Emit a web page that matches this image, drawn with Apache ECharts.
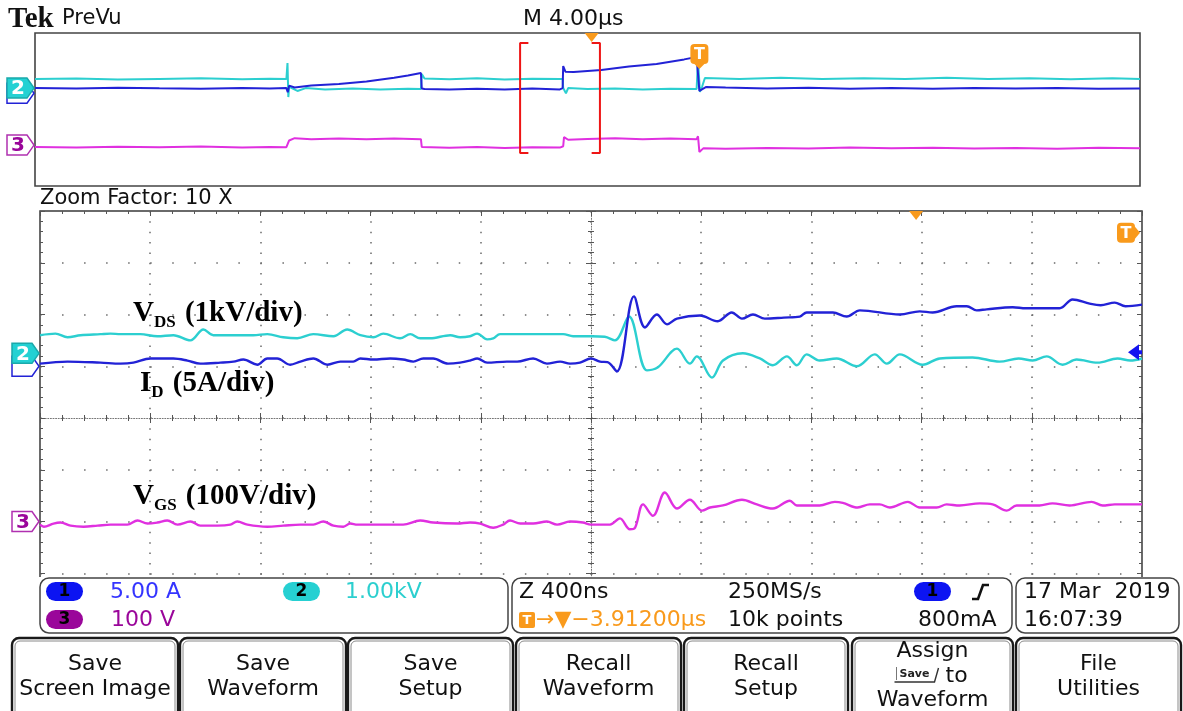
<!DOCTYPE html>
<html><head><meta charset="utf-8">
<script src="https://cdn.jsdelivr.net/npm/echarts@6/dist/echarts.min.js"></script>
<style>html,body{margin:0;padding:0;background:#fff}#c{width:1183px;height:711px}</style>
</head><body><div id="c"></div>
<script>
// ---------------- DATA (time, screen divisions) ----------------
// Zoomed window: time in ns (400 ns/div), value in graticule divisions from centre
const vdsZoom = [[-2000,1.60],[-1944,1.63],[-1900,1.56],[-1853,1.60],[-1781,1.62],[-1744,1.63],[-1708,1.62],[-1636,1.62],[-1574,1.58],[-1516,1.60],[-1454,1.50],[-1407,1.71],[-1371,1.60],[-1298,1.60],[-1226,1.60],[-1175,1.62],[-1117,1.56],[-1066,1.54],[-1008,1.62],[-935,1.58],[-885,1.71],[-837,1.60],[-790,1.56],[-754,1.63],[-693,1.54],[-656,1.62],[-620,1.54],[-584,1.54],[-511,1.60],[-475,1.56],[-439,1.58],[-413,1.63],[-377,1.52],[-355,1.54],[-330,1.62],[-246,1.62],[-101,1.62],[-65,1.58],[0,1.58],[50,1.57],[87,1.50],[138,1.96],[203,0.92],[243,0.98],[312,1.34],[359,1.05],[384,1.19],[439,0.78],[479,1.11],[551,1.25],[613,1.15],[660,1.02],[711,1.19],[747,1.02],[783,1.23],[830,1.11],[892,1.15],[965,1.00],[1030,1.23],[1074,1.05],[1121,1.23],[1204,1.03],[1266,1.15],[1385,1.17],[1483,1.09],[1552,1.15],[1603,1.11],[1654,1.19],[1712,1.03],[1763,1.13],[1839,1.07],[1911,1.15],[1958,1.11],[2000,1.15]];
const idZoom = [[-2000,1.05],[-1900,1.09],[-1781,1.07],[-1708,1.05],[-1661,1.07],[-1599,1.15],[-1516,1.15],[-1465,1.11],[-1418,1.05],[-1345,1.07],[-1298,1.09],[-1262,1.13],[-1211,1.03],[-1175,1.15],[-1139,1.15],[-1092,1.03],[-1055,1.09],[-1008,1.15],[-957,1.03],[-910,1.09],[-863,1.09],[-837,1.15],[-790,1.13],[-729,1.15],[-682,1.13],[-645,1.09],[-609,1.15],[-573,1.15],[-519,1.05],[-475,1.07],[-439,1.11],[-413,1.15],[-377,1.07],[-305,1.09],[-268,1.09],[-210,1.15],[-160,1.05],[-112,1.09],[-76,1.05],[-40,1.07],[0,1.15],[33,1.09],[60,1.08],[94,0.90],[156,2.35],[196,1.75],[239,2.00],[276,1.81],[312,1.92],[395,1.98],[460,1.87],[511,2.04],[548,1.92],[588,2.00],[631,1.92],[700,1.94],[758,1.96],[783,2.04],[878,2.04],[928,1.96],[976,2.08],[1121,2.00],[1193,2.06],[1240,2.04],[1327,2.16],[1364,2.16],[1400,2.08],[1436,2.10],[1531,2.14],[1578,2.12],[1701,2.12],[1748,2.29],[1810,2.21],[1850,2.18],[1901,2.23],[1940,2.16],[2000,2.19]];
const vgsZoom = [[-2000,-2.06],[-1986,-2.10],[-1951,-2.04],[-1926,-2.02],[-1889,-2.08],[-1842,-2.10],[-1791,-2.08],[-1744,-2.06],[-1683,-2.06],[-1646,-1.98],[-1610,-2.04],[-1574,-2.02],[-1538,-1.98],[-1501,-2.06],[-1454,-2.00],[-1418,-2.08],[-1356,-2.08],[-1309,-2.06],[-1284,-2.00],[-1247,-2.06],[-1175,-2.10],[-1117,-2.08],[-1055,-2.06],[-1008,-2.06],[-972,-2.00],[-935,-2.08],[-899,-2.10],[-874,-2.04],[-848,-2.06],[-729,-2.06],[-682,-2.06],[-620,-1.98],[-573,-2.02],[-486,-2.04],[-439,-2.02],[-402,-2.04],[-355,-2.12],[-319,-2.06],[-294,-1.98],[-257,-2.04],[-210,-2.04],[-160,-2.00],[-123,-2.06],[-76,-2.00],[-29,-2.02],[0,-2.06],[69,-2.06],[105,-1.94],[141,-2.15],[160,-2.12],[189,-1.67],[225,-1.89],[268,-1.44],[312,-1.75],[359,-1.58],[403,-1.79],[432,-1.73],[479,-1.69],[548,-1.58],[602,-1.67],[660,-1.75],[722,-1.60],[747,-1.69],[830,-1.69],[885,-1.62],[914,-1.64],[968,-1.73],[1012,-1.67],[1048,-1.67],[1085,-1.73],[1150,-1.62],[1193,-1.73],[1255,-1.73],[1291,-1.67],[1338,-1.69],[1411,-1.65],[1458,-1.67],[1509,-1.79],[1545,-1.69],[1628,-1.69],[1675,-1.65],[1737,-1.69],[1817,-1.62],[1857,-1.69],[1901,-1.67],[2000,-1.67]];

// Overview (PreVu) record: time in µs (4 µs/div), value in divisions
const vdsOverview = [[-20,1.59],[-18.5,1.62],[-17,1.57],[-15.5,1.60],[-14,1.63],[-12.5,1.58],[-11.5,1.61],[-10.9,1.59],[-10.86,2.43],[-10.83,0.65],[-10.8,1.18],[-10.5,0.97],[-10.2,1.12],[-9.5,1.05],[-8.5,1.10],[-7.5,1.05],[-6.5,1.09],[-6.03,1.07],[-6.0,1.85],[-5.9,1.62],[-5.0,1.58],[-4.0,1.63],[-3.0,1.57],[-2.0,1.61],[-1.0,1.59],[-0.9,1.60],[-0.88,1.12],[-0.78,0.85],[-0.7,1.12],[0,1.07],[1,1.10],[2,1.05],[3,1.09],[3.95,1.07],[4.0,2.6],[4.05,2.6],[4.07,0.92],[4.15,1.2],[4.25,1.65],[5.5,1.60],[7,1.66],[8.5,1.59],[10,1.63],[11.5,1.60],[13,1.66],[14.5,1.60],[16,1.63],[17.5,1.58],[19,1.64],[20,1.60]];
const idOverview = [[-20,1.12],[-18.5,1.10],[-17,1.14],[-15.5,1.11],[-14,1.09],[-12.5,1.13],[-11.5,1.10],[-10.9,1.12],[-10.85,0.9],[-10.8,1.25],[-10.6,1.15],[-10,1.25],[-9,1.33],[-8,1.46],[-7,1.66],[-6.5,1.78],[-6.03,1.91],[-6.0,1.10],[-5.9,1.07],[-5,1.05],[-4,1.09],[-3,1.04],[-2,1.10],[-1,1.05],[-0.9,1.12],[-0.88,2.27],[-0.8,1.98],[-0.5,1.96],[0.5,2.07],[1.5,2.25],[2.5,2.38],[3.5,2.62],[3.95,2.75],[4.05,0.97],[4.3,1.18],[5,1.15],[6.5,1.10],[8,1.14],[9.5,1.08],[11,1.12],[12.5,1.09],[14,1.13],[15.5,1.10],[17,1.12],[18.5,1.08],[20,1.10]];
const vgsOverview = [[-20,-1.96],[-18.5,-1.99],[-17,-1.95],[-15.5,-1.98],[-14,-1.94],[-12.5,-1.99],[-11.5,-1.96],[-10.9,-1.97],[-10.8,-1.62],[-10.6,-1.50],[-10,-1.55],[-9,-1.52],[-8,-1.56],[-7,-1.52],[-6.03,-1.55],[-6.0,-1.96],[-5,-2.0],[-4,-1.96],[-3,-2.01],[-2,-1.97],[-1,-1.99],[-0.88,-1.92],[-0.85,-1.44],[-0.7,-1.58],[0,-1.54],[1,-1.50],[2,-1.56],[3,-1.52],[3.95,-1.55],[4.0,-1.40],[4.05,-2.22],[4.2,-2.02],[5,-2.05],[6.5,-2.01],[8,-2.04],[9.5,-1.99],[11,-2.03],[12.5,-2.00],[14,-2.04],[15.5,-2.01],[17,-2.05],[18.5,-2.00],[20,-2.03]];
const zoomBracketLeft = [[-2.14,3.48],[-2.44,3.48],[-2.44,-2.27],[-2.14,-2.27]];
const zoomBracketRight = [[0.15,3.48],[0.45,3.48],[0.45,-2.27],[0.15,-2.27]];

// Channel ground levels / markers (divisions)
const mainGround = {ch1: 1.02, ch2: 1.25, ch3: -2.0};
const ovGround = {ch1: 0.85, ch2: 1.12, ch3: -1.86};
const expansionPointOv = 0.15;      // µs, orange triangle in overview
const triggerOv = 4.05;             // µs, T marker in overview
const expansionPointMain = 1180;    // ns
const triggerLevelMain = 1.27;      // div, blue arrow at right
const triggerMarkerMain = 3.58;     // div, T marker at right

// Readout texts
const header = {brand: 'Tek', mode: 'PreVu', timebase: 'M 4.00µs', zoom: 'Zoom Factor: 10 X'};
const chScales = ['5.00 A', '1.00kV', '100 V'];
const readout = {zoomTb: 'Z 400ns', offset: '→▼−3.91200µs', rate: '250MS/s', points: '10k points', trigLevel: '800mA', date: '17 Mar  2019', time: '16:07:39'};
const buttons = [['Save','Screen Image'],['Save','Waveform'],['Save','Setup'],['Recall','Waveform'],['Recall','Setup'],['Assign','@SAVE@ to','Waveform'],['File','Utilities']];

// ---------------- STYLE ----------------
const C_CY = '#2ccfd0', C_BL = '#2222d6', C_MG = '#e030e0', C_OR = '#f99a1c', C_PU = '#9a069a';
const SANS = '"DejaVu Sans"', SERIF = '"Liberation Serif"';
const MAIN = {left: 40, top: 211, width: 1102, height: 414};
const OV = {left: 35, top: 33, width: 1105, height: 153};
const dotC = '#6a6a6a', tickC = '#555';

function tickAxis(extra){
  return Object.assign({type:'value', axisLabel:{show:false}, splitLine:{show:false},
    axisLine:{show:false, onZero:false}, axisTick:{show:true, inside:true, length:5, lineStyle:{color:tickC, width:1}},
    minorTick:{show:true, splitNumber:5, length:3, lineStyle:{color:tickC, width:1}}}, extra);
}

const option = {
  animation: false,
  backgroundColor: '#ffffff',
  grid: [
    Object.assign({show:true, borderColor:'#3a3a3a', borderWidth:1.5}, MAIN),
    Object.assign({show:false}, MAIN),
    Object.assign({show:false}, MAIN),
    Object.assign({show:true, borderColor:'#444', borderWidth:1.6}, OV)
  ],
  xAxis: [
    tickAxis({gridIndex:0, min:-2000, max:2000, interval:400,
      axisLine:{show:true, onZero:true, lineStyle:{color:'#777', width:1, type:[1,1.6]}},
      splitLine:{show:true, lineStyle:{color:dotC, width:1.5, type:[1.5,8.85]}}}),
    tickAxis({gridIndex:1, min:-2000, max:2000, interval:400, axisLine:{show:false, onZero:true}, axisTick:{show:true, inside:false, length:5, lineStyle:{color:tickC}}}),
    tickAxis({gridIndex:2, min:-2000, max:2000, interval:400, position:'top'}),
    {gridIndex:3, type:'value', min:-20, max:20, show:false}
  ],
  yAxis: [
    tickAxis({gridIndex:0, min:-4, max:4, interval:1,
      axisLine:{show:true, onZero:true, lineStyle:{color:'#777', width:1, type:[1,1.6]}},
      splitLine:{show:true, lineStyle:{color:dotC, width:1.5, type:[1.5,20.54]}}}),
    tickAxis({gridIndex:1, min:-4, max:4, interval:1, axisLine:{show:false, onZero:true}, axisTick:{show:true, inside:false, length:5, lineStyle:{color:tickC}}}),
    tickAxis({gridIndex:2, min:-4, max:4, interval:1, position:'left'}),
    tickAxis({gridIndex:2, min:-4, max:4, interval:1, position:'right'}),
    {gridIndex:3, type:'value', min:-4, max:4, show:false}
  ],
  series: [
    {name:'VDS', type:'line', xAxisIndex:0, yAxisIndex:0, data:vdsZoom, showSymbol:false, smooth:0.35, lineStyle:{color:C_CY, width:2.4}, z:5, silent:true},
    {name:'ID', type:'line', xAxisIndex:0, yAxisIndex:0, data:idZoom, showSymbol:false, smooth:0.35, lineStyle:{color:C_BL, width:2.4}, z:6, silent:true},
    {name:'VGS', type:'line', xAxisIndex:0, yAxisIndex:0, data:vgsZoom, showSymbol:false, smooth:0.35, lineStyle:{color:C_MG, width:2.4}, z:5, silent:true},
    {name:'VDS overview', type:'line', xAxisIndex:3, yAxisIndex:4, data:vdsOverview, showSymbol:false, lineStyle:{color:C_CY, width:2}, z:5, silent:true},
    {name:'ID overview', type:'line', xAxisIndex:3, yAxisIndex:4, data:idOverview, showSymbol:false, lineStyle:{color:C_BL, width:2}, z:6, silent:true},
    {name:'VGS overview', type:'line', xAxisIndex:3, yAxisIndex:4, data:vgsOverview, showSymbol:false, lineStyle:{color:C_MG, width:2}, z:5, silent:true},
    {name:'bracketL', type:'line', xAxisIndex:3, yAxisIndex:4, data:zoomBracketLeft, showSymbol:false, lineStyle:{color:'#ee1515', width:2}, z:7, silent:true},
    {name:'bracketR', type:'line', xAxisIndex:3, yAxisIndex:4, data:zoomBracketRight, showSymbol:false, lineStyle:{color:'#ee1515', width:2}, z:7, silent:true}
  ]
};

const chart = echarts.init(document.getElementById('c'), null, {renderer:'canvas', width:1183, height:711});
chart.setOption(option);

const PM = pt => chart.convertToPixel({xAxisIndex:0, yAxisIndex:0}, pt);
const PO = pt => chart.convertToPixel({xAxisIndex:3, yAxisIndex:4}, pt);
const Z = 100;
const G = [];
function txt(text, x, y, font, fill, align, va){
  G.push({type:'text', z:Z, silent:true, style:{text, x, y, font, fill: fill||'#111', align: align||'left', verticalAlign: va||'middle'}});
}
function rect(x, y, w, h, r, fill, stroke, lw, z){
  G.push({type:'rect', z: z||Z, silent:true, shape:{x, y, width:w, height:h, r}, style:{fill: fill||'none', stroke: stroke||'none', lineWidth: lw||1}});
}
function poly(points, fill, stroke, lw){
  G.push({type:'polygon', z:Z, silent:true, shape:{points}, style:{fill: fill||'none', stroke: stroke||'none', lineWidth: lw||1}});
}
function pline(points, stroke, lw){
  G.push({type:'polyline', z:Z, silent:true, shape:{points}, style:{stroke, lineWidth: lw||1, fill:'none'}});
}
function chMarker(tipX, cy, fill, stroke, label, labelColor){
  poly([[tipX-28,cy-10],[tipX-8,cy-10],[tipX-1,cy],[tipX-8,cy+10],[tipX-28,cy+10]], fill, stroke, 1.5);
  if (label) txt(label, tipX-17, cy+1, 'bold 20px '+SANS, labelColor, 'center');
}
function tMarker(cx, cy, pointer){
  rect(cx-9, cy-10, 18, 20, 4, C_OR);
  if (pointer==='right') poly([[cx+9,cy-6],[cx+14,cy],[cx+9,cy+6]], C_OR);
  if (pointer==='down') poly([[cx-5,cy+10],[cx+5,cy+10],[cx,cy+15]], C_OR);
  txt('T', cx, cy+1, 'bold 16px '+SANS, '#fff', 'center');
}
const measure = (() => { const c = document.createElement('canvas').getContext('2d'); return (t, f) => { c.font = f; return c.measureText(t).width; }; })();
function subLabel(x, yMain, main, sub, rest){
  const fM = 'bold 29px '+SERIF, fS = 'bold 17px '+SERIF;
  txt(main, x, yMain, fM, '#000');
  const w1 = measure(main, fM);
  txt(sub, x + w1, yMain + 9, fS, '#000');
  const w2 = measure(sub, fS);
  txt(rest, x + w1 + w2 + 2, yMain, fM, '#000');
}

// header
txt(header.brand, 8, 20, 'bold 29px '+SERIF, '#111');
txt(header.mode, 62, 19, '21px '+SANS, '#111');
txt(header.timebase, 523, 19, '22px '+SANS, '#111');
txt(header.zoom, 40, 199, '21px '+SANS, '#111');

// overview markers
const ovLeft = OV.left;
chMarker(ovLeft, PO([0, ovGround.ch1])[1], '#fff', C_BL, '', C_BL);
chMarker(ovLeft, PO([0, ovGround.ch2])[1], '#23d1d3', '#1aa9ab', '2', '#fff');
chMarker(ovLeft, PO([0, ovGround.ch3])[1], '#fff', '#b030b0', '3', C_PU);
{ const px = PO([expansionPointOv, 4])[0]; poly([[px-7,OV.top],[px+7,OV.top],[px,OV.top+9]], C_OR); }
{ const px = PO([triggerOv, 0])[0]; tMarker(px, 54, 'down'); }

// main markers
const mLeft = MAIN.left, mRight = MAIN.left + MAIN.width;
chMarker(mLeft, PM([0, mainGround.ch1])[1] + 1, '#fff', C_BL, '', C_BL);
chMarker(mLeft, PM([0, mainGround.ch2])[1], '#23d1d3', '#1aa9ab', '2', '#fff');
chMarker(mLeft, PM([0, mainGround.ch3])[1], '#fff', '#b030b0', '3', C_PU);
{ const px = PM([expansionPointMain, 4])[0]; poly([[px-7,MAIN.top],[px+7,MAIN.top],[px,MAIN.top+9]], C_OR); }
{ const cy = PM([0, triggerMarkerMain])[1]; tMarker(mRight-16, cy, 'right'); }
{ const cy = PM([0, triggerLevelMain])[1]; poly([[mRight-14,cy],[mRight-3,cy-8],[mRight-3,cy+8]], '#1414f0'); rect(mRight-4, cy-2, 4, 4, 0, '#1414f0'); }

// waveform annotations
subLabel(133, 314, 'V', 'DS', ' (1kV/div)');
subLabel(140, 384, 'I', 'D', ' (5A/div)');
subLabel(133, 497, 'V', 'GS', ' (100V/div)');

// cover bottom of graticule (readout overlays it)
rect(25, 577, 1158, 134, 0, '#fff', null, 1, 99);

// readout panel
const PF = '22px '+SANS;
rect(40, 578, 468, 55, 9, '#fff', '#444', 1.5);
rect(512, 578, 500, 55, 9, '#fff', '#444', 1.5);
rect(1016, 578, 163, 55, 9, '#fff', '#444', 1.5);
rect(46, 582, 37, 19, 9.5, '#0c14f2'); txt('1', 64.5, 592, 'bold 17px '+SANS, '#000', 'center');
txt(chScales[0], 110, 592, PF, '#3434ff');
rect(283, 582, 37, 19, 9.5, '#26d0d2'); txt('2', 301.5, 592, 'bold 17px '+SANS, '#000', 'center');
txt(chScales[1], 345, 592, PF, '#2ccfcf');
rect(46, 610, 37, 19, 9.5, C_PU); txt('3', 64.5, 620, 'bold 17px '+SANS, '#000', 'center');
txt(chScales[2], 111, 620, PF, C_PU);
txt(readout.zoomTb, 519, 592, PF, '#111');
rect(519, 612, 16, 16, 2, C_OR); txt('T', 527, 620.5, 'bold 13px '+SANS, '#fff', 'center');
txt(readout.offset, 536, 620, PF, C_OR);
txt(readout.rate, 728, 592, PF, '#111');
txt(readout.points, 728, 620, PF, '#111');
rect(914, 582, 37, 19, 9.5, '#0c14f2'); txt('1', 932.5, 592, 'bold 17px '+SANS, '#000', 'center');
pline([[972,599],[978,599],[983,585],[989,585]], '#111', 2.6);
txt(readout.trigLevel, 918, 620, PF, '#111');
txt(readout.date, 1024, 592, PF, '#111');
txt(readout.time, 1024, 620, PF, '#111');

// soft-key buttons
const bx = [[12,166],[180,166],[348,165],[516,165],[684,164],[852,161],[1016,165]];
const BF = '22px '+SANS;
buttons.forEach((lines, i) => {
  const [x, w] = bx[i];
  rect(x, 638, w, 90, 7, '#fff', '#1a1a1a', 2.4);
  rect(x+3, 641, w-6, 90, 5, 'none', '#8a8a8a', 1);
  const cx = x + w/2;
  const ys = lines.length === 3 ? [651, 676, 700] : [664, 689];
  lines.forEach((l, j) => {
    if (l.indexOf('@SAVE@') === 0) {
      txt('Save', cx-18, ys[j]-2, 'bold 11px '+SANS, '#222', 'center');
      pline([[cx-38,ys[j]+6],[cx+2,ys[j]+6],[cx+6,ys[j]-8]], '#333', 1.4);
      pline([[cx-36,ys[j]-9],[cx-36,ys[j]+4]], '#777', 1);
      txt('to', cx+13, ys[j], BF, '#111', 'left');
    } else {
      txt(l, cx, ys[j], BF, '#111', 'center');
    }
  });
});

chart.setOption({graphic: {elements: G}});
</script></body></html>
